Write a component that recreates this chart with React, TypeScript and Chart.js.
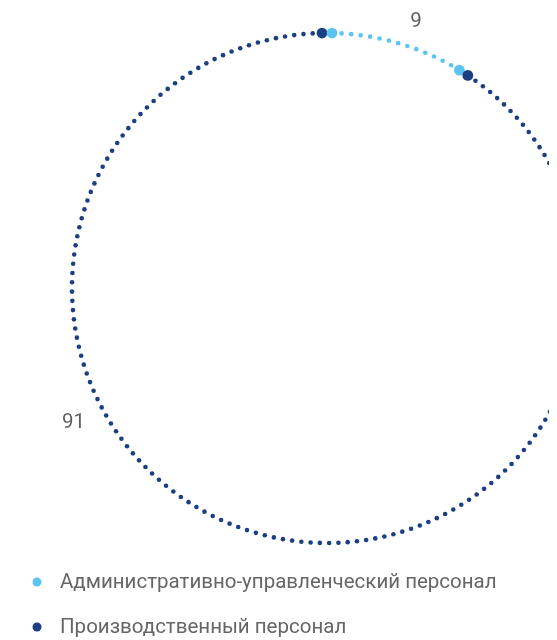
import React, { useEffect, useRef } from "react";
import { Chart, registerables } from "chart.js";
Chart.register(...registerables);

const categories = ["Административно-управленческий персонал", "Производственный персонал"];
const shares = [9, 91];
const colors = ["#5bc4f1", "#1b3f80"];

const FONT = "Roboto, 'DejaVu Sans', sans-serif";
const TEXT_COLOR = "#5f5f5f";
// where along each segment its value label sits (fraction of the sweep) and how far outside the ring
const LABEL_FRAC = [0.57, 0.64];
const LABEL_GAP = [26, 32];

const dotsPlugin = {
  id: "dottedRing",
  beforeDatasetDraw() {
    return false;
  },
  afterDatasetsDraw(chart: any) {
    const ctx: CanvasRenderingContext2D = chart.ctx;
    const meta = chart.getDatasetMeta(0);
    const segs = meta.data.map((a: any) =>
      a.getProps(["x", "y", "startAngle", "endAngle", "outerRadius"], true)
    );
    const smallR = 2.3;
    const bigR = 5.4;
    const step = 9.3;
    const inset = 5;
    const dot = (x: number, y: number, r: number, c: string) => {
      ctx.fillStyle = c;
      ctx.beginPath();
      ctx.arc(x, y, r, 0, Math.PI * 2);
      ctx.fill();
    };
    ctx.save();
    segs.forEach((s: any, i: number) => {
      const r = s.outerRadius;
      const a0 = s.startAngle + inset / r;
      const a1 = s.endAngle - inset / r;
      const n = Math.max(1, Math.round(((a1 - a0) * r) / step));
      for (let k = 1; k < n; k++) {
        const a = a0 + ((a1 - a0) * k) / n;
        dot(s.x + r * Math.cos(a), s.y + r * Math.sin(a), smallR, colors[i % colors.length]);
      }
    });
    const N = segs.length;
    for (let i = 0; i < N; i++) {
      const pi = (i - 1 + N) % N;
      const p = segs[pi];
      const ea = p.endAngle - inset / p.outerRadius;
      dot(p.x + p.outerRadius * Math.cos(ea), p.y + p.outerRadius * Math.sin(ea), bigR, colors[pi]);
      const s = segs[i];
      const sa = s.startAngle + inset / s.outerRadius;
      dot(s.x + s.outerRadius * Math.cos(sa), s.y + s.outerRadius * Math.sin(sa), bigR, colors[i]);
    }
    // value labels
    ctx.font = `20.5px ${FONT}`;
    ctx.fillStyle = TEXT_COLOR;
    ctx.textAlign = "center";
    ctx.textBaseline = "middle";
    segs.forEach((s: any, i: number) => {
      const a = s.startAngle + (s.endAngle - s.startAngle) * LABEL_FRAC[i];
      const d = s.outerRadius + LABEL_GAP[i];
      ctx.fillText(String(shares[i]), s.x + d * Math.cos(a), s.y + d * Math.sin(a));
    });
    // legend
    const area = chart.chartArea;
    ctx.textAlign = "left";
    ctx.fillStyle = "#666666";
    categories.forEach((c, i) => {
      const y = area.bottom + 39 + 45 * i;
      dot(29, y, 4.5, colors[i]);
      ctx.fillStyle = "#666666";
      ctx.fillText(c, 52, y + 1);
    });
    ctx.restore();
  },
};

export default function App() {
  const ref = useRef<HTMLCanvasElement>(null);
  useEffect(() => {
    document.documentElement.style.overflow = "hidden";
    document.body.style.overflow = "hidden";
    const chart = new Chart(ref.current!, {
      type: "doughnut",
      data: {
        labels: categories,
        datasets: [{ data: shares, backgroundColor: colors, borderWidth: 0 }],
      },
      options: {
        responsive: false,
        animation: false,
        devicePixelRatio: 1,
        cutout: "97%",
        layout: { padding: { top: 25, left: 25, right: 25, bottom: 97 } },
        plugins: { legend: { display: false }, tooltip: { enabled: false } },
      },
      plugins: [dotsPlugin],
    });
    return () => chart.destroy();
  }, []);
  return (
    <div style={{ width: 640, height: 632, overflow: "hidden" }}>
      <canvas ref={ref} width={638} height={632} style={{ display: "block" }} />
    </div>
  );
}
